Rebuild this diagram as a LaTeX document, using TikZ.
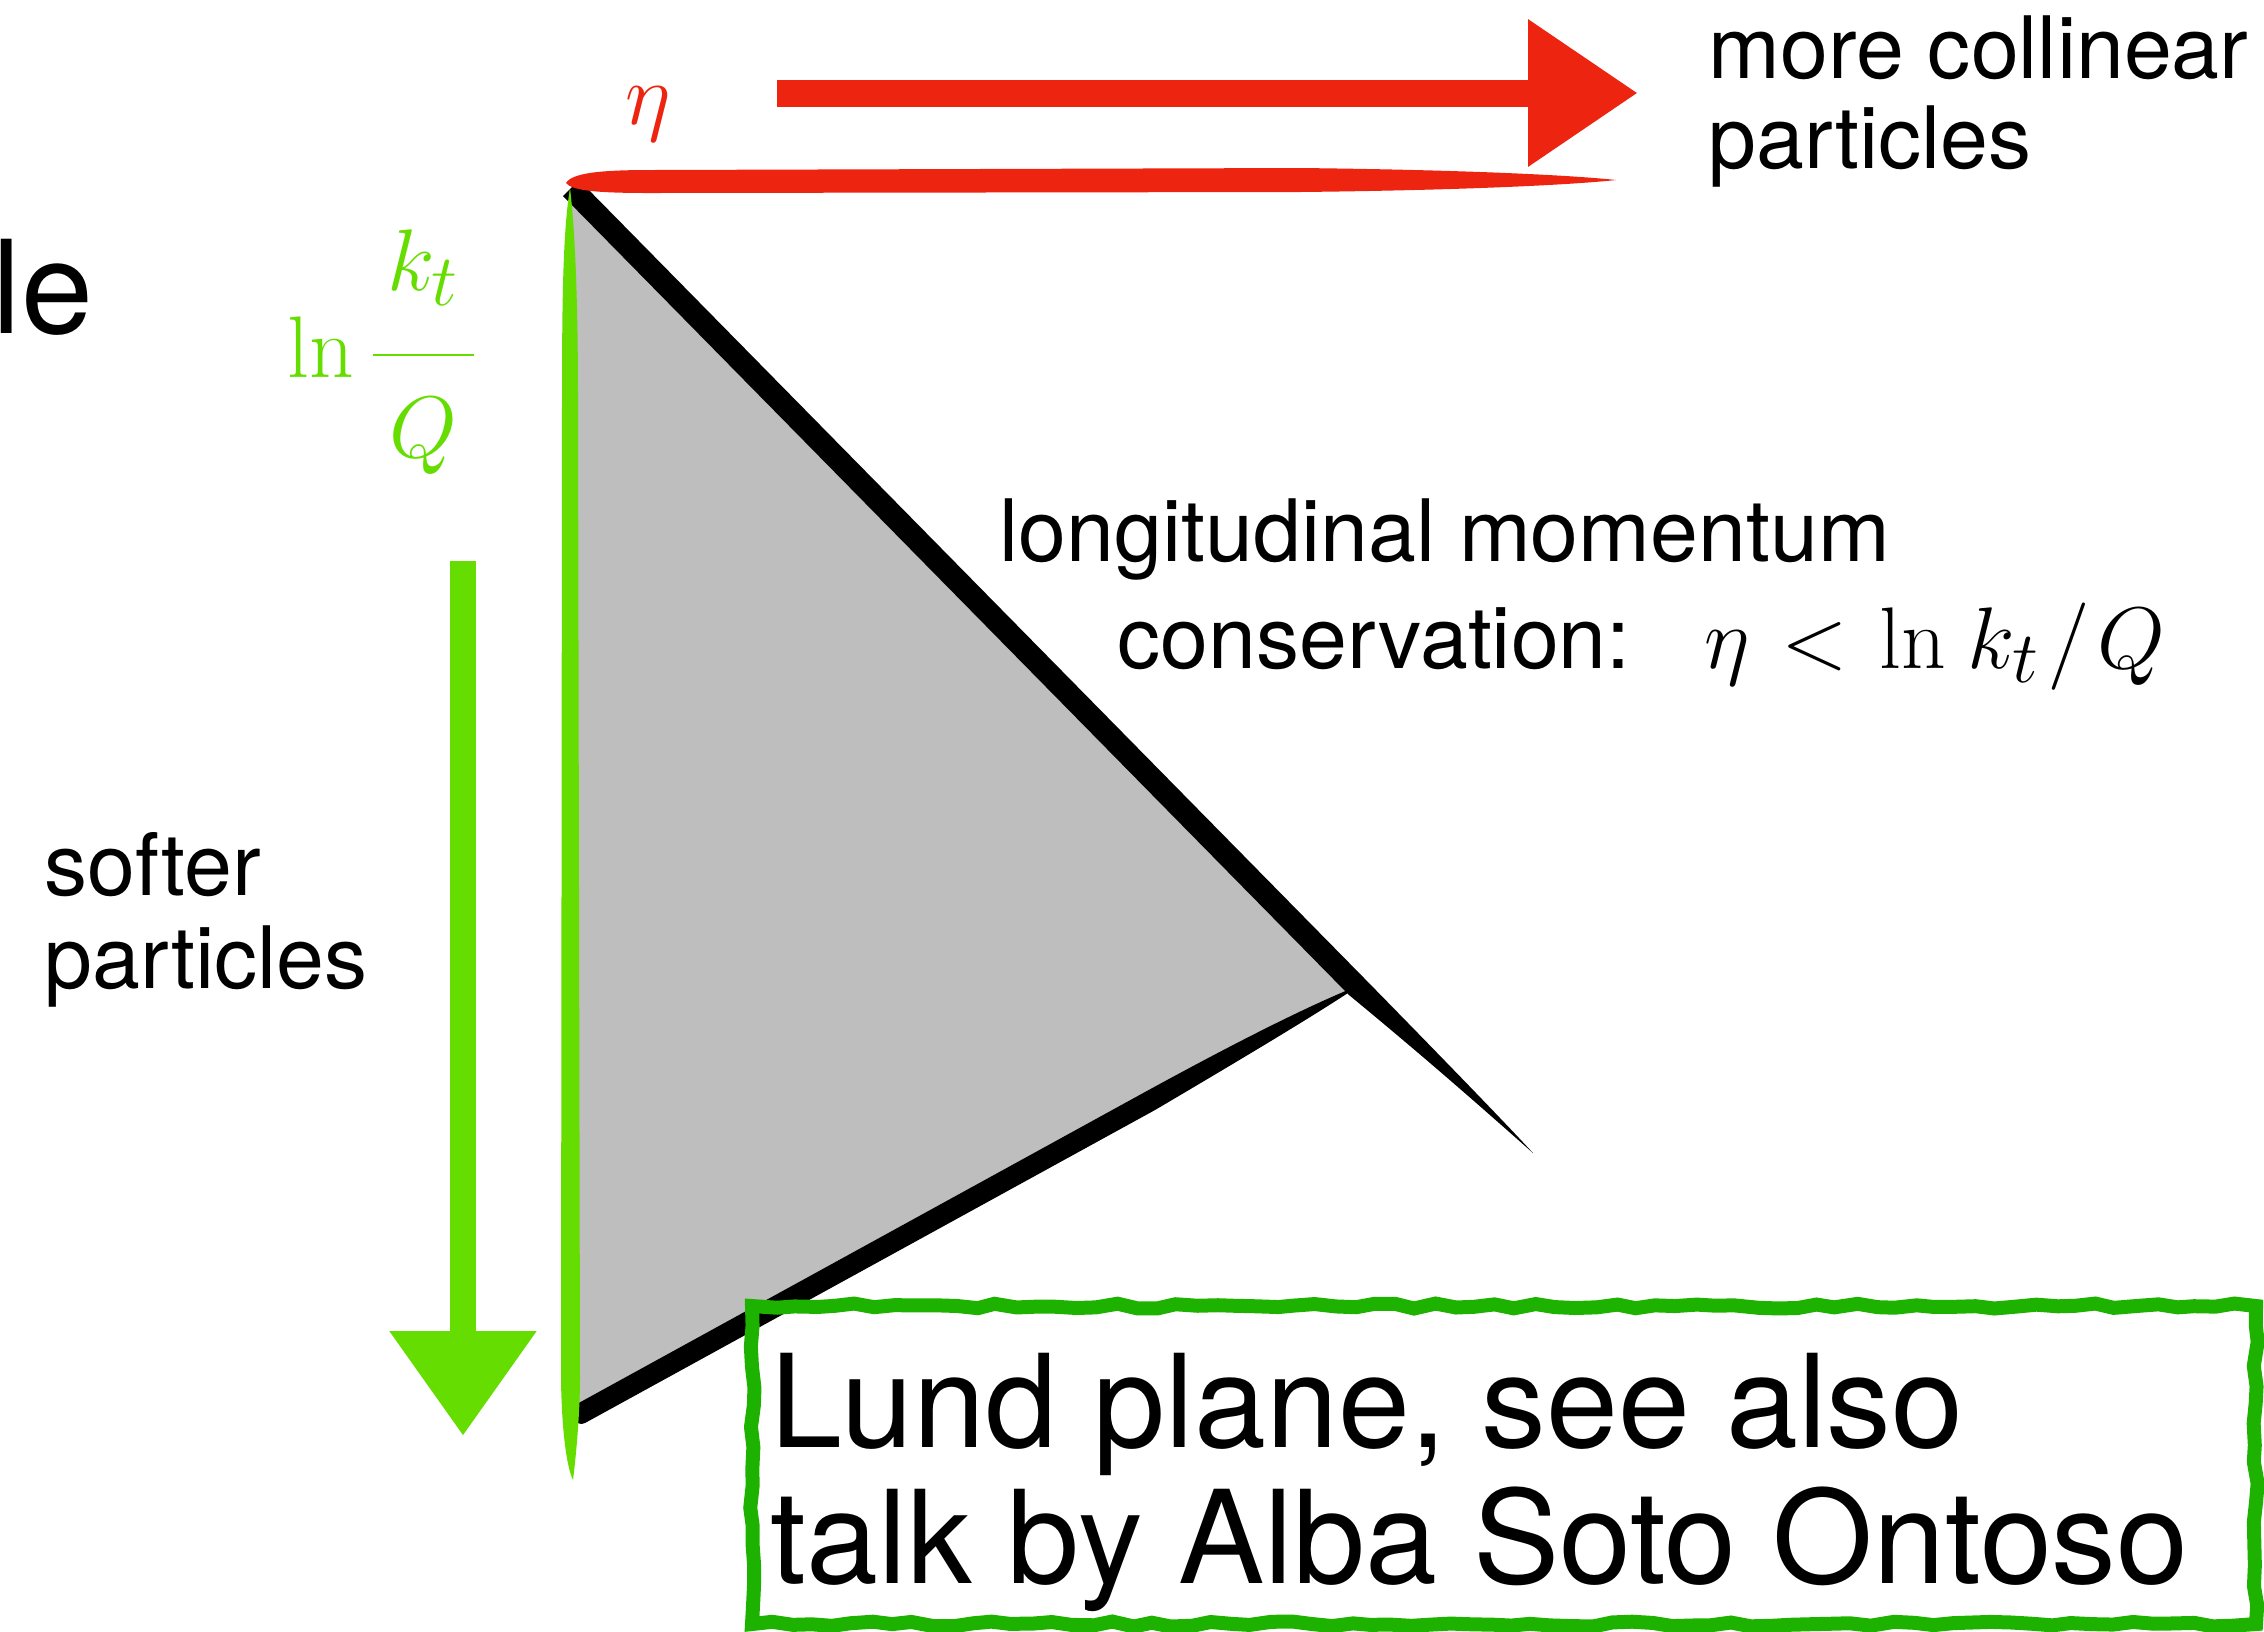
\documentclass[tikz,border=0pt]{standalone}
\usepackage[no-math]{fontspec}
\setmainfont{TeX Gyre Heros}
\usetikzlibrary{positioning,arrows.meta,decorations.pathmorphing}

\definecolor{etared}{RGB}{236,36,16}
\definecolor{ktgreen}{RGB}{102,221,0}
\definecolor{boxgreen}{RGB}{30,178,0}
\definecolor{planegray}{RGB}{190,190,190}

\begin{document}
\begin{tikzpicture}[
  x=0.1mm, y=-0.1mm,
  lbl/.style={inner sep=0pt, align=left, font=\fontsize{24.5}{25.5}\selectfont},
  big/.style={inner sep=0pt, align=left, font=\fontsize{36.8}{38.7}\selectfont},
  mathlbl/.style={inner sep=0pt, font=\fontsize{29}{30}\selectfont},
  redarr/.style={etared, line width=2.7mm, -{Triangle[length=11mm,width=14mm]}},
  greenarr/.style={ktgreen, line width=2.6mm, -{Triangle[length=10.5mm,width=14mm]}},
  lundframe/.style={boxgreen, line width=1.4mm, decorate,
    decoration={random steps,segment length=2mm,amplitude=0.25mm}}
]
\pgfmathsetseed{7}
\useasboundingbox (0,0) rectangle (2264,1631);

% the plane
\fill[planegray] (572,190) -- (1357,987) -- (578,1405) -- cycle;
\fill[black] (579,180) -- (1365,979) .. controls (1460,1076) and (1510,1128) .. (1533,1153)
  .. controls (1500,1124) and (1440,1070) .. (1349,995) -- (563,196) -- cycle;
\fill[black] (575,1405) -- (1145,1092) .. controls (1240,1040) and (1310,1005) .. (1360,985)
  .. controls (1320,1012) and (1250,1054) .. (1155,1110) -- (585,1423)
  .. controls (576,1428) and (566,1412) .. (575,1405) -- cycle;

% axes
\fill[ktgreen] (570,188) .. controls (563,230) and (562,300) .. (562,400) -- (561,1380)
  .. controls (562,1440) and (568,1470) .. (573,1480) .. controls (578,1440) and (580,1400) .. (580,1380)
  -- (578,400) .. controls (578,300) and (575,230) .. (570,188) -- cycle;
\fill[etared] (566,183) .. controls (572,173) and (600,170) .. (650,170) -- (1300,168)
  .. controls (1480,170) and (1580,176) .. (1616,180) .. controls (1580,184) and (1480,190) .. (1300,192)
  -- (650,193) .. controls (600,193) and (572,191) .. (566,183) -- cycle;

% arrows
\coordinate (etaTail) at (777,93);
\coordinate (etaHead) at (1638,93);
\coordinate (softTop) at (463,561);
\coordinate (softTip) at (463,1436);
\draw[redarr] (etaTail) -- (etaHead);
\draw[greenarr] (softTop) -- (softTip);

% labels
\node[big, anchor=base west] (le) at (-8,333) {le};
\node[mathlbl, text=etared, anchor=base] (eta) at (648,124) {$\eta$};
\node[mathlbl, text=ktgreen, anchor=base east] (lnkt) at (479,377)
  {$\displaystyle\ln\frac{\mkern3mu k_t\mkern3mu\rule[-17pt]{0pt}{17pt}}{\rule{0pt}{27.7pt}Q}$};
\node[lbl, anchor=base west] (collinear) at (1708,168) {more collinear\\particles};
\node[lbl, anchor=base west] (momentum) at (999,561) {longitudinal momentum};
\node[lbl, anchor=base west] (conservation) at (1117,668)
  {conservation:\hspace{21pt}{\fontsize{29}{30}\selectfont$\eta\mkern1.5mu<\mkern1.5mu\ln\mkern1.5mu k_t\mkern1.5mu/\mkern1.5mu Q$}};
\node[lbl, anchor=base west, font=\fontsize{24.5}{26.3}\selectfont] (softer) at (44,988) {softer\\particles};

% Lund box
\node[big, anchor=base west] (lund) at (770,1583) {Lund plane, see also\\talk by Alba Soto Ontoso};
\draw[lundframe] (752,1306) rectangle (2256,1624);
\end{tikzpicture}
\end{document}
